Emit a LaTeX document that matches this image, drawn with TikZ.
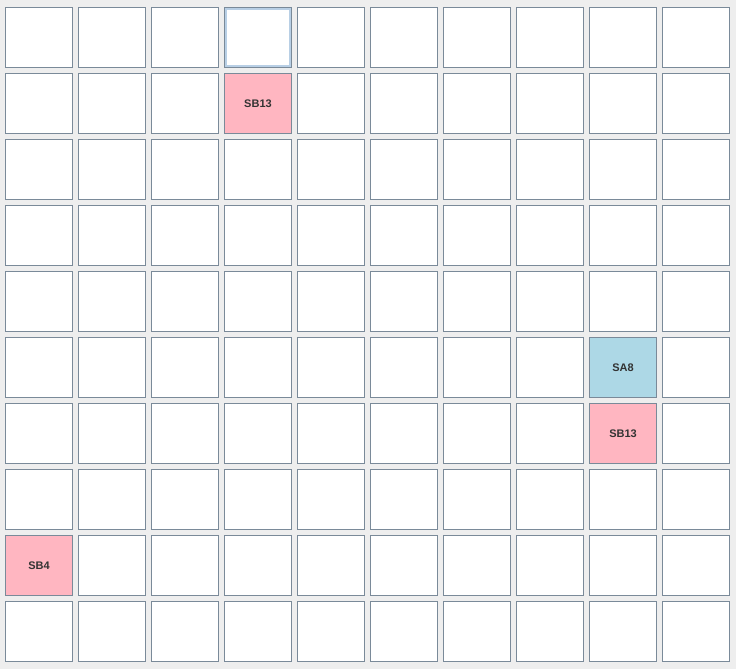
\documentclass[tikz,border=0pt]{standalone}
\usepackage{fontspec}
\setmainfont{Liberation Sans}
\definecolor{bg}{HTML}{EEEEEE}
\definecolor{bord}{HTML}{7A8A99}
\definecolor{pinkc}{HTML}{FFB6C1}
\definecolor{bluec}{HTML}{ADD8E6}
\definecolor{focusc}{HTML}{B8CFE5}
\definecolor{txt}{HTML}{333333}
\tikzset{
  cell/.style={draw=bord, line width=1pt, fill=white, minimum width=67pt, minimum height=60pt,
    inner sep=0pt, outer sep=0pt, anchor=north west},
  lbl/.style={font=\bfseries\fontsize{11}{13}\selectfont, text=txt, inner sep=0pt},
  st3-1/.style={fill=pinkc},
  st8-5/.style={fill=bluec},
  st8-6/.style={fill=pinkc},
  st0-8/.style={fill=pinkc}
}
\begin{document}
\begin{tikzpicture}[x=1pt,y=-1pt]
\fill[bg] (0,0) rectangle (736,669);
\useasboundingbox (0,0) rectangle (736,669);
\foreach \i in {0,...,9}{
  \foreach \j in {0,...,9}{
    \node[cell, st\i-\j/.try] (c\i-\j) at ({5.5+73*\i}, {7.5+66*\j}) {};
  }
}
% focus ring on the top cell
\draw[focusc, line width=2pt] ([xshift=1.5pt,yshift=-1.5pt]c3-0.north west) rectangle ([xshift=-1.5pt,yshift=1.5pt]c3-0.south east);
\node[lbl] (t1) at (c3-1.center) {SB13};
\node[lbl] (t2) at (c8-5.center) {SA8};
\node[lbl] (t3) at (c8-6.center) {SB13};
\node[lbl] (t4) at (c0-8.center) {SB4};
\end{tikzpicture}
\end{document}
